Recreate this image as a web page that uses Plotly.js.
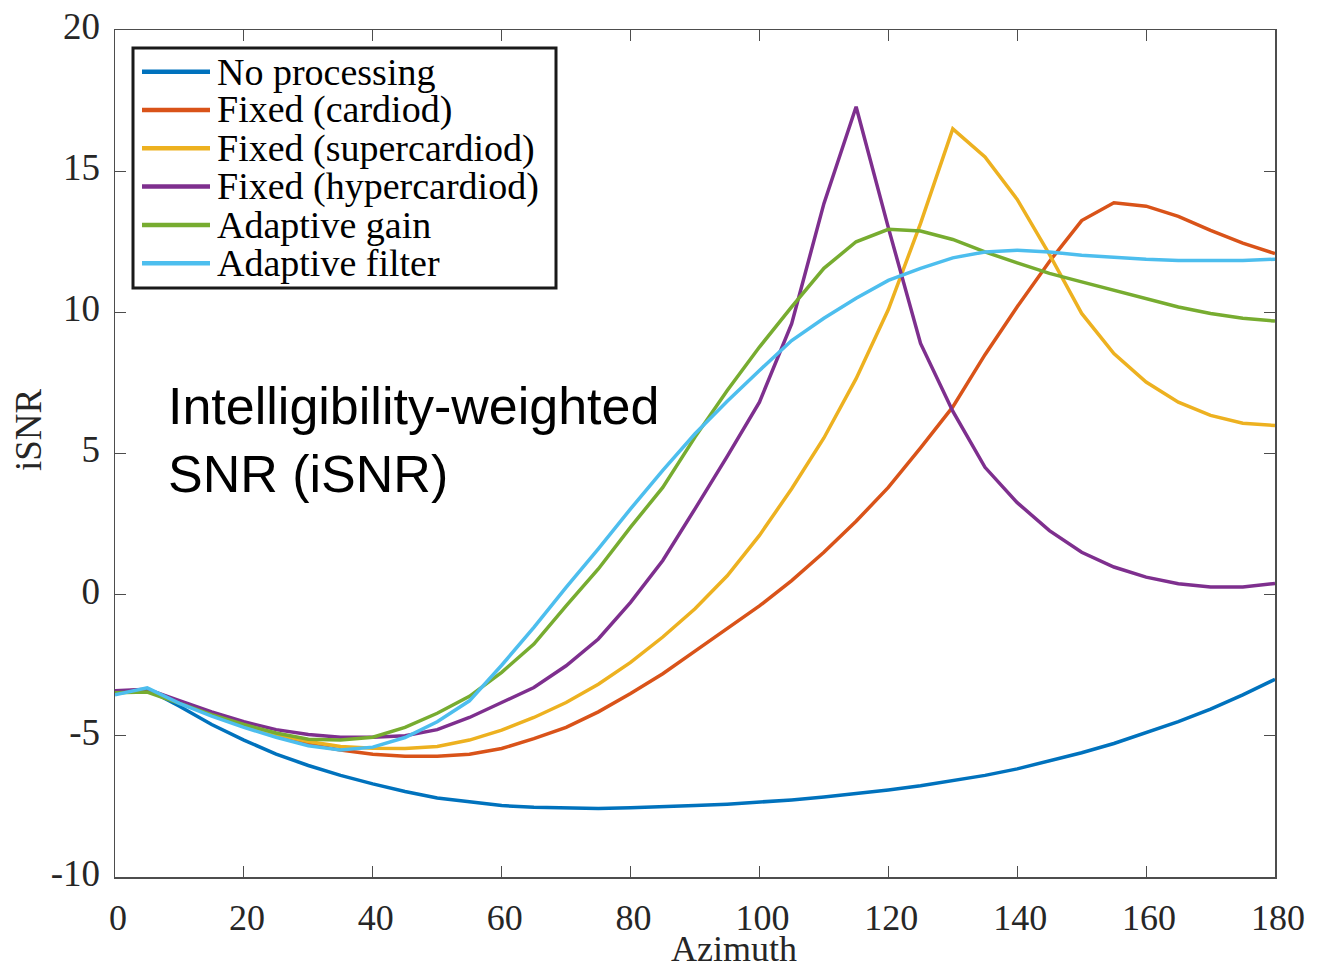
<!DOCTYPE html>
<html>
<head>
<meta charset="utf-8">
<script src="https://cdn.plot.ly/plotly-3.0.1.min.js"></script>
<style>
  html, body { margin: 0; padding: 0; background: #ffffff; }
  #chart { width: 1323px; height: 970px; }
</style>
</head>
<body>
<div id="chart"></div>
<script>
// ---- data ----
const azimuth = [0, 5, 10, 15, 20, 25, 30, 35, 40, 45, 50, 55, 60, 65, 70, 75, 80, 85, 90,
                 95, 100, 105, 110, 115, 120, 125, 130, 135, 140, 145, 150, 155, 160, 165, 170, 175, 180];

const seriesNames = ["No processing", "Fixed (cardiod)", "Fixed (supercardiod)",
                     "Fixed (hypercardiod)", "Adaptive gain", "Adaptive filter"];

const noProcessing = [-3.5, -3.35, -3.95, -4.6, -5.15, -5.65, -6.05, -6.4, -6.7, -6.97, -7.2, -7.35, -7.47,
                      -7.53, -7.56, -7.57, -7.55, -7.52, -7.47, -7.42, -7.35, -7.27, -7.17, -7.05, -6.92,
                      -6.77, -6.6, -6.4, -6.17, -5.9, -5.6, -5.27, -4.9, -4.5, -4.05, -3.55, -3.0];

const fixedCardiod = [-3.45, -3.35, -3.8, -4.25, -4.65, -5.0, -5.3, -5.5, -5.65, -5.72, -5.72, -5.65, -5.45,
                      -5.1, -4.7, -4.15, -3.5, -2.8, -2.0, -1.2, -0.4, 0.5, 1.5, 2.6, 3.8,
                      5.2, 6.65, 8.5, 10.2, 11.8, 13.25, 13.88, 13.76, 13.4, 12.9, 12.45, 12.08];

const fixedSupercardiod = [-3.45, -3.35, -3.8, -4.25, -4.65, -4.95, -5.2, -5.38, -5.44, -5.45, -5.38, -5.15, -4.8,
                           -4.35, -3.82, -3.17, -2.4, -1.5, -0.5, 0.67, 2.1, 3.75, 5.55, 7.65, 10.1,
                           13.15, 16.5, 15.5, 14.0, 12.05, 9.96, 8.54, 7.53, 6.82, 6.35, 6.07, 5.99];

const fixedHypercardiod = [-3.4, -3.35, -3.75, -4.15, -4.5, -4.78, -4.95, -5.05, -5.05, -5.0, -4.78, -4.35, -3.82,
                           -3.29, -2.52, -1.57, -0.27, 1.21, 3.04, 4.9, 6.82, 9.6, 13.85, 17.28, 13.0,
                           8.9, 6.5, 4.51, 3.26, 2.27, 1.5, 0.98, 0.62, 0.39, 0.27, 0.27, 0.4];

const adaptiveGain = [-3.47, -3.45, -3.85, -4.25, -4.6, -4.9, -5.12, -5.15, -5.05, -4.7, -4.2, -3.6, -2.75,
                      -1.75, -0.4, 0.91, 2.39, 3.8, 5.58, 7.23, 8.77, 10.19, 11.56, 12.5, 12.94,
                      12.88, 12.58, 12.14, 11.75, 11.38, 11.08, 10.78, 10.5, 10.19, 9.96, 9.79, 9.69];

const adaptiveFilter = [-3.55, -3.3, -3.85, -4.3, -4.7, -5.05, -5.35, -5.5, -5.4, -5.06, -4.5, -3.76, -2.5,
                        -1.16, 0.26, 1.62, 3.04, 4.4, 5.7, 6.85, 7.94, 9.0, 9.79, 10.5, 11.13,
                        11.56, 11.93, 12.14, 12.2, 12.14, 12.02, 11.94, 11.88, 11.84, 11.84, 11.84, 11.88];

const xTickValues = [0, 20, 40, 60, 80, 100, 120, 140, 160, 180];
const yTickValues = [-10, -5, 0, 5, 10, 15, 20];
const xTitle = "Azimuth";
const yTitle = "iSNR";
const annotationText = "Intelligibility-weighted<br>SNR (iSNR)";

// ---- styling ----
const colors = ["#0072BD", "#D95319", "#EDB120", "#7E2F8E", "#77AC30", "#4DBEEE"];
const allSeries = [noProcessing, fixedCardiod, fixedSupercardiod, fixedHypercardiod, adaptiveGain, adaptiveFilter];

const traces = allSeries.map((ys, i) => ({
  type: "scatter",
  mode: "lines",
  x: azimuth,
  y: ys,
  name: seriesNames[i],
  line: { color: colors[i], width: 3.5 },
  showlegend: false,
  hoverinfo: "x+y+name"
}));

const W = 1323, H = 970;
const M = { l: 115, r: 48, t: 30, b: 93 };
const PW = W - M.l - M.r, PH = H - M.t - M.b;
const px = p => (p - M.l) / PW;          // pixel x -> paper x
const py = p => 1 - (p - M.t) / PH;      // pixel y -> paper y

const serif = "Liberation Serif, Times New Roman, serif";
const axisColor = "#4d4d4d";
const textColor = "#262626";

// custom legend (box, sample lines, labels)
const shapes = [{
  type: "rect", xref: "paper", yref: "paper",
  x0: px(133), x1: px(556), y0: py(288), y1: py(48),
  line: { color: "#1a1a1a", width: 3 }, fillcolor: "#ffffff", layer: "above"
}];
const annotations = [];
const rowY0 = 71.7, rowStep = 38.3;
seriesNames.forEach((name, i) => {
  const yy = rowY0 + i * rowStep;
  shapes.push({
    type: "line", xref: "paper", yref: "paper",
    x0: px(142), x1: px(210), y0: py(yy), y1: py(yy),
    line: { color: colors[i], width: 4.5 }, layer: "above"
  });
  annotations.push({
    xref: "paper", yref: "paper", x: px(215), y: py(yy),
    xanchor: "left", yanchor: "middle", showarrow: false,
    text: name, font: { family: serif, size: 38, color: "#000000" }
  });
});
// main text label
annotations.push({
  xref: "paper", yref: "paper", x: px(166), y: py(440),
  xanchor: "left", yanchor: "middle", align: "left", showarrow: false,
  text: annotationText,
  font: { family: "Liberation Sans, Arial, sans-serif", size: 52, color: "#000000" }
});
// axis titles (placed as in the reference, which is off-centre)
annotations.push({
  xref: "paper", yref: "paper", x: px(734), y: py(971),
  xanchor: "center", yanchor: "bottom", showarrow: false,
  text: xTitle, font: { family: serif, size: 36, color: textColor }
});
annotations.push({
  xref: "paper", yref: "paper", x: px(28), y: py(430),
  xanchor: "center", yanchor: "middle", showarrow: false, textangle: -90,
  text: yTitle, font: { family: serif, size: 37, color: textColor }
});

const layout = {
  width: W, height: H,
  margin: M,
  paper_bgcolor: "#ffffff",
  plot_bgcolor: "#ffffff",
  showlegend: false,
  xaxis: {
    range: [0, 180],
    tickvals: xTickValues,
    ticktext: xTickValues.map(String),
    ticks: "inside", ticklen: 11, tickwidth: 1.2, tickcolor: axisColor,
    showline: true, linecolor: axisColor, linewidth: 1.5, mirror: "ticks",
    showgrid: false, zeroline: false,
    tickfont: { family: serif, size: 36, color: textColor },
    ticklabelstandoff: 8,
    ticklabelshift: 3
  },
  yaxis: {
    range: [-10, 20],
    tickvals: yTickValues,
    ticktext: yTickValues.map(String),
    ticks: "inside", ticklen: 11, tickwidth: 1.2, tickcolor: axisColor,
    showline: true, linecolor: axisColor, linewidth: 1.5, mirror: "ticks",
    showgrid: false, zeroline: false,
    tickfont: { family: serif, size: 37, color: textColor },
    ticklabelstandoff: 6,
    ticklabelshift: -4
  },
  shapes: shapes,
  annotations: annotations
};

Plotly.newPlot("chart", traces, layout, { displayModeBar: false, staticPlot: true });
</script>
</body>
</html>
